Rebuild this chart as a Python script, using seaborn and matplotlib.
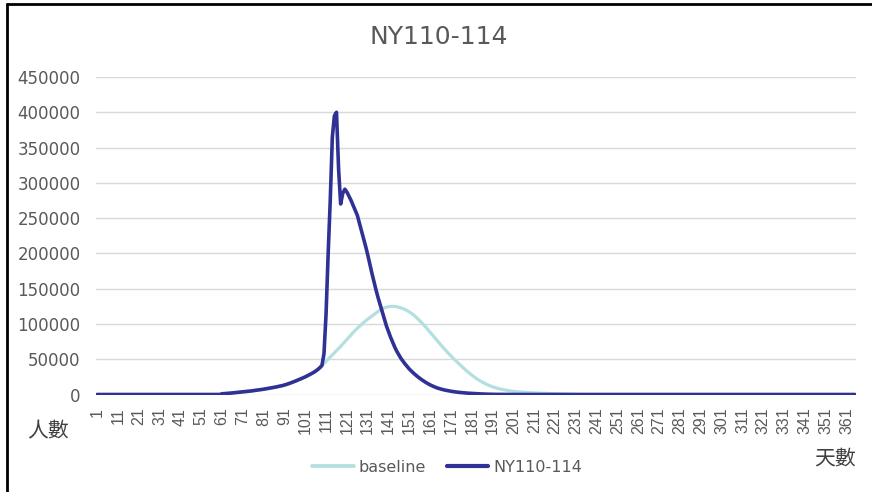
import matplotlib
matplotlib.use("Agg")
import matplotlib.pyplot as plt
from matplotlib.lines import Line2D
import pandas as pd
import seaborn as sns

# ---- data: daily counts, days 1..365 ----
days = list(range(1, 366))

# quiet period before the epidemic takes off (days 1-60)
quiet_days_1_60 = [0] * 60

# early growth shared by both scenarios (days 61-109)
early_growth_61_109 = [
    1000, 1200, 1400, 1600, 1900, 2200, 2500, 2800, 3100, 3400,
    3700, 4000, 4300, 4700, 5000, 5400, 5800, 6200, 6600, 7000,
    7500, 8000, 8500, 9000, 9500, 10100, 10700, 11300, 11900, 12600,
    13400, 14300, 15300, 16400, 17500, 18700, 19900, 21100, 22400, 23700,
    25000, 26500, 28000, 29600, 31300, 33200, 35400, 38000, 41000,
]

# baseline scenario, days 110-230
baseline_110_230 = [
    44000,
    47000, 50000, 53000, 56000, 59000, 62000, 65000, 68200, 71500, 74800,
    78000, 81300, 84600, 87800, 91000, 93800, 96500, 99300, 102000, 104500,
    106800, 109000, 111200, 113400, 115600, 117800, 120000, 121500, 122700, 123700,
    124400, 124900, 125000, 124800, 124300, 123600, 122700, 121600, 120300, 118800,
    117000, 115000, 112700, 110200, 107500, 104600, 101500, 98300, 95000, 91600,
    88100, 84600, 81100, 77600, 74100, 70700, 67300, 64000, 60800, 57600,
    54500, 51500, 48600, 45800, 43000, 40200, 37500, 34800, 32300, 29800,
    27400, 25200, 23100, 21100, 19300, 17600, 16000, 14500, 13200, 12000,
    10900, 9900, 9000, 8200, 7500, 6900, 6300, 5800, 5300, 4900,
    4500, 4200, 3900, 3600, 3400, 3200, 3000, 2800, 2600, 2450,
    2300, 2150, 2000, 1850, 1700, 1600, 1500, 1400, 1300, 1200,
    1100, 1000, 900, 800, 700, 600, 500, 400, 300, 200,
]
baseline_tail_231_365 = [0] * 135

# NY110-114 scenario, days 110-200
ny_110_200 = [
    58000,
    115000, 200000, 275000, 365000, 395000, 400000, 320000, 270000, 285000, 291000,
    287000, 281000, 275000, 268000, 261000, 254000, 243000, 232000, 221000, 210000,
    198000, 185000, 172000, 160000, 148000, 137000, 127000, 117000, 107000, 97000,
    89000, 81000, 74000, 67000, 61000, 56000, 51000, 47000, 43000, 39500,
    36000, 33000, 30200, 27600, 25200, 23000, 20800, 18800, 16900, 15200,
    13600, 12200, 10900, 9700, 8700, 7800, 7000, 6300, 5700, 5100,
    4600, 4100, 3700, 3300, 3000, 2700, 2400, 2150, 1900, 1700,
    1500, 1300, 1150, 1000, 850, 700, 600, 500, 400, 300,
    250, 200, 150, 120, 100, 80, 60, 40, 20, 0,
]
ny_tail_201_365 = [0] * 165

baseline = quiet_days_1_60 + early_growth_61_109 + baseline_110_230 + baseline_tail_231_365
ny110_114 = quiet_days_1_60 + early_growth_61_109 + ny_110_200 + ny_tail_201_365

series_names = ["baseline", "NY110-114"]
series_colors = {"baseline": "#B3DFE0", "NY110-114": "#303195"}
series_widths = {"baseline": 2.3, "NY110-114": 2.6}

x_tick_days = list(range(1, 366, 10))
y_ticks = list(range(0, 450001, 50000))

df = pd.DataFrame({
    "day": days + days,
    "count": baseline + ny110_114,
    "series": ["baseline"] * len(days) + ["NY110-114"] * len(days),
})

# ---- figure ----
sns.set_theme(style="white")
plt.rcParams["font.family"] = ["DejaVu Sans", "Noto Sans CJK TC"]

W, H = 872, 492
fig = plt.figure(figsize=(W / 100, H / 100), dpi=100)
fig.patch.set_facecolor("white")
ax = fig.add_axes([96 / W, (H - 394.5) / H, 760 / W, 317.5 / H])

for name in series_names:
    sns.lineplot(
        data=df[df["series"] == name], x="day", y="count",
        color=series_colors[name], linewidth=series_widths[name],
        ax=ax, label=name, legend=False,
        solid_joinstyle="round", solid_capstyle="round",
    )

ax.set_xlim(0.5, 365.5)
ax.set_ylim(0, 450000)
ax.set_xticks(x_tick_days)
ax.set_xticklabels([str(d) for d in x_tick_days], family="Liberation Sans")
ax.set_yticks(y_ticks)
ax.set_yticklabels([str(v) for v in y_ticks])
ax.set_xlabel("")
ax.set_ylabel("")

ax.yaxis.grid(True, color="#D9D9D9", linewidth=1)
ax.xaxis.grid(False)
ax.set_axisbelow(True)
for s in ax.spines.values():
    s.set_visible(False)

ax.tick_params(axis="x", length=0, pad=9.5, labelsize=11.5, labelcolor="#595959",
               labelrotation=90)
ax.tick_params(axis="y", length=0, pad=11, labelsize=12, labelcolor="#595959")

fig.text(439 / W, 1 - 37 / H, "NY110-114", ha="center", va="center",
         fontsize=18, color="#595959")

fig.text(48 / W, 1 - 431 / H, "人數", ha="center", va="center",
         fontsize=15, color="#404040", family=["Noto Sans CJK TC", "DejaVu Sans"])
fig.text(835 / W, 1 - 458 / H, "天數", ha="center", va="center",
         fontsize=15, color="#404040", family=["Noto Sans CJK TC", "DejaVu Sans"])

handles = [Line2D([], [], color=series_colors[n], linewidth=series_widths[n] + 0.4)
           for n in series_names]
fig.legend(handles, series_names, loc="center",
           bbox_to_anchor=(447 / W, 1 - 467 / H), ncol=2, frameon=False,
           fontsize=11.5, labelcolor="#595959", handlelength=2.6,
           handletextpad=0.3, columnspacing=1.3)

# chart frame (top and left edges)
fig.add_artist(Line2D([7 / W, 1.0], [1 - 4 / H, 1 - 4 / H], color="black",
                      linewidth=2, transform=fig.transFigure))
fig.add_artist(Line2D([7 / W, 7 / W], [0.0, 1 - 4 / H], color="black",
                      linewidth=2, transform=fig.transFigure))

fig.savefig("out.png", dpi=100)
